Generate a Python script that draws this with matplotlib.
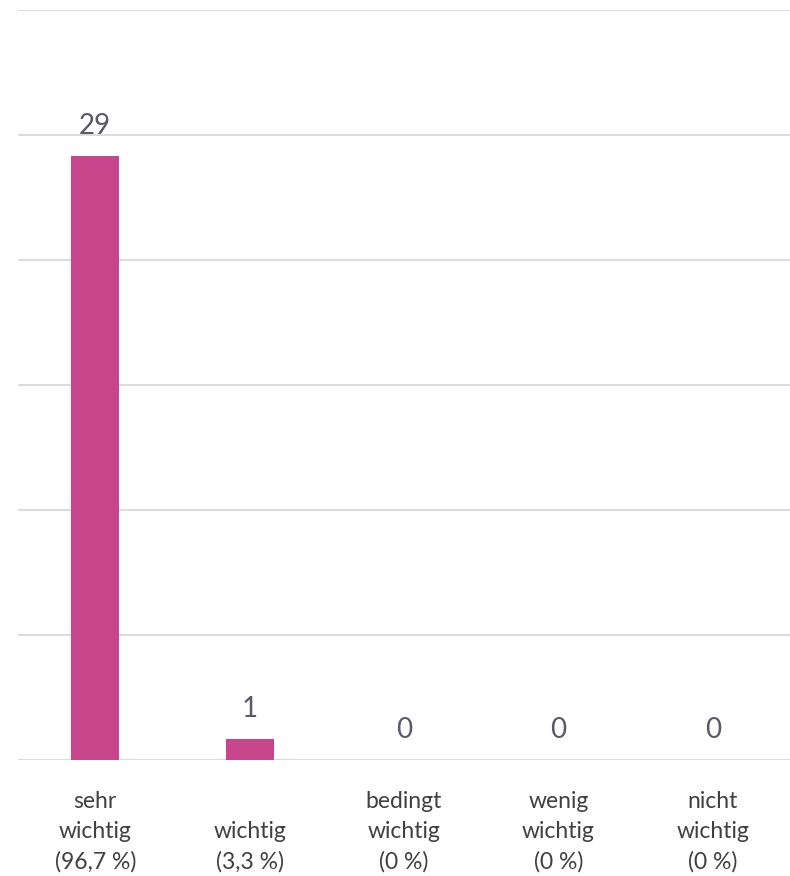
"""Balkendiagramm: Wichtigkeit (Anzahl Nennungen)."""

import matplotlib

matplotlib.use("Agg")
import matplotlib.pyplot as plt
import numpy as np

kategorien = ["sehr\nwichtig\n(96,7 %)", "wichtig\n(3,3 %)", "bedingt\nwichtig\n(0 %)",
              "wenig\nwichtig\n(0 %)", "nicht\nwichtig\n(0 %)"]
anzahl = [29, 1, 0, 0, 0]
y_ticks = [0, 6, 12, 18, 24, 30, 36]

plt.rcParams["font.family"] = ["Lato", "DejaVu Sans"]

fig = plt.figure(figsize=(7.9, 8.76), dpi=100)
ax = fig.add_axes([18 / 790, 1 - 760 / 876, 1 - 18 / 790, 750.4 / 876])

x = np.arange(len(anzahl))
balken = ax.bar(x, anzahl, width=0.31, color="#C6458B", zorder=3)
for b, wert in zip(balken, anzahl):
    ax.annotate(f"{wert}", (b.get_x() + b.get_width() / 2, b.get_height()),
                xytext=(0, 30), textcoords="offset pixels", ha="center", va="center",
                fontsize=20, color="#595968")

# Kategorienamen unten bündig (wie in Excel)
for xi, name in zip(x, kategorien):
    ax.annotate(name, (xi, 0), xycoords=("data", "axes fraction"),
                xytext=(0, -113), textcoords="offset pixels", ha="center", va="bottom",
                fontsize=16.5, color="#404040", linespacing=1.55, annotation_clip=False)

ax.set_xlim(-0.5, len(anzahl) - 0.5)
ax.set_ylim(y_ticks[0], y_ticks[-1])
ax.set_yticks(y_ticks)
ax.set_yticklabels([])
ax.set_xticks([])
ax.tick_params(axis="both", length=0)
ax.grid(axis="y", color="#DCDCE0", linewidth=1.5, zorder=0)
for seite in ["left", "right", "top", "bottom"]:
    ax.spines[seite].set_visible(False)

fig.savefig("out.png", dpi=100)
plt.close(fig)
